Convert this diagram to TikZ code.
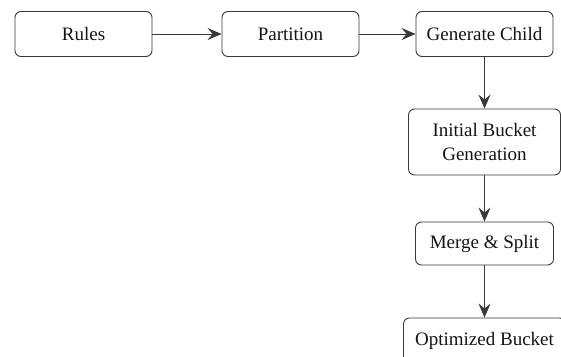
\documentclass[tikz,border=0pt]{standalone}
\usepackage{fontspec}
\setmainfont{Liberation Serif}
\usetikzlibrary{arrows.meta}
\definecolor{edgegray}{HTML}{383838}
\tikzset{
  stepbox/.style={draw=edgegray, line width=0.9pt, rounded corners=6pt, fill=white,
    minimum width=137pt, minimum height=45pt, align=center, inner sep=2pt,
    font=\fontsize{19}{24}\selectfont, text=black!92},
  flow/.style={draw=edgegray, line width=0.9pt, -{Stealth[length=14pt, width=12pt, inset=5pt]}},
}
\begin{document}
\begin{tikzpicture}[x=1pt, y=-1pt]
\useasboundingbox (0,0) rectangle (561,356);
\clip (0,0) rectangle (561,356);
% top row
\node[stepbox] (rules) at (83.5,34) {Rules};
\node[stepbox] (partition) at (290.5,34) {Partition};
\node[stepbox] (genchild) at (484.5,34) {Generate Child};
% right column
\node[stepbox, minimum width=152pt, minimum height=66pt] (initbucket) at (484.5,142) {Initial Bucket\\Generation};
\node[stepbox, minimum width=138pt, minimum height=43pt] (mergesplit) at (484.5,243.5) {Merge \& Split};
\node[stepbox, minimum width=162pt, minimum height=45pt] (optbucket) at (484.5,340.5) {Optimized Bucket};
\draw[flow] (rules) -- (partition);
\draw[flow] (partition) -- (genchild);
\draw[flow] (genchild) -- (initbucket);
\draw[flow] (initbucket) -- (mergesplit);
\draw[flow] (mergesplit) -- (optbucket);
\end{tikzpicture}
\end{document}
